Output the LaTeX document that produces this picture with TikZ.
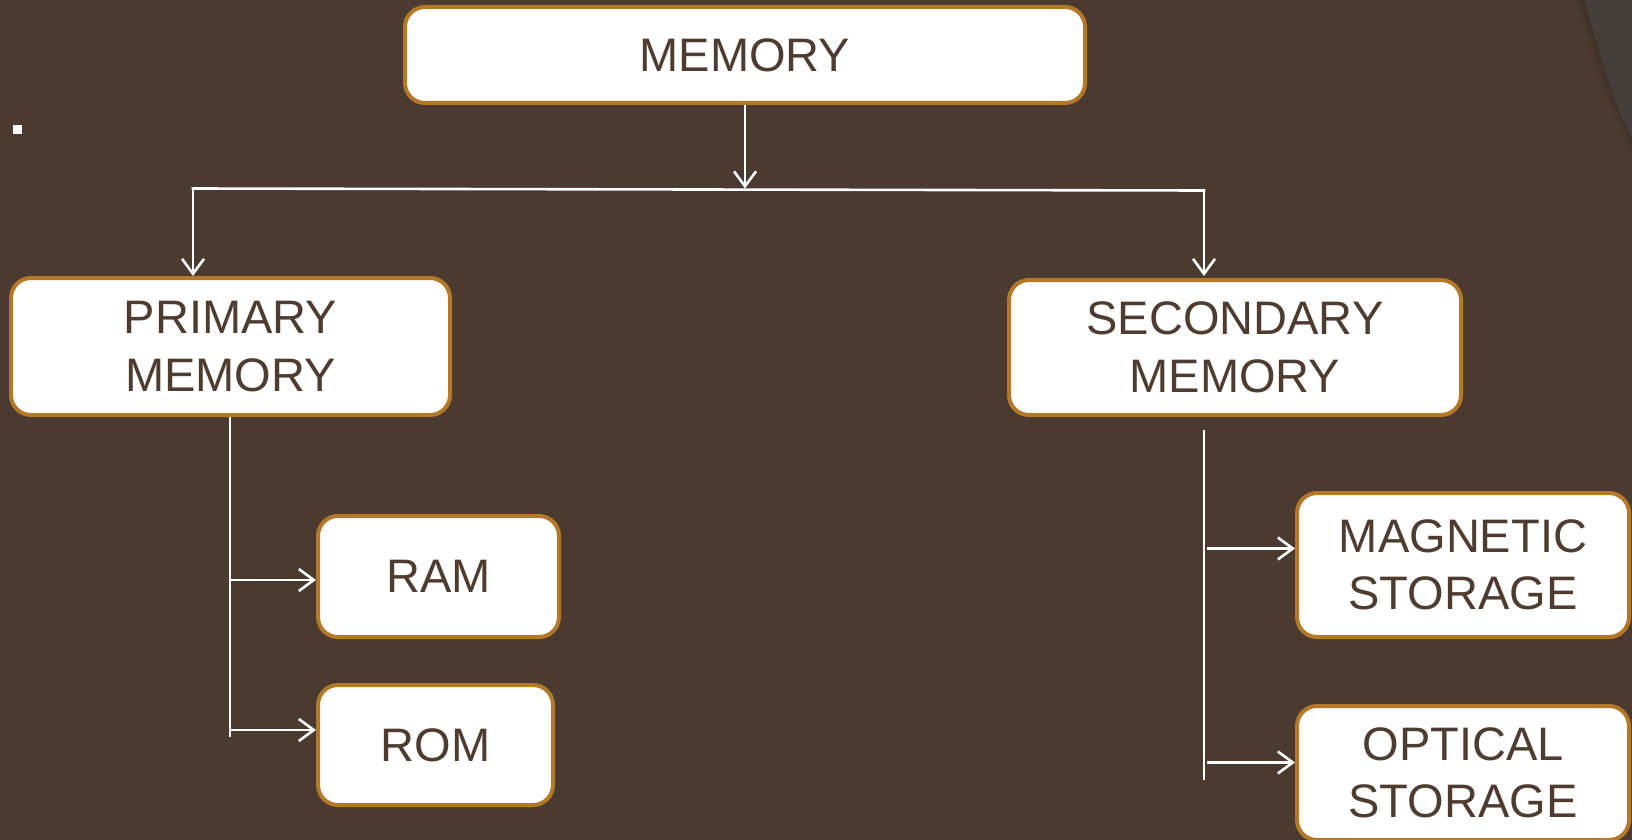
\documentclass[tikz,border=0pt]{standalone}
\usepackage{fontspec}
\setmainfont{Liberation Sans}
\usetikzlibrary{arrows.meta}

\definecolor{bgbrown}{RGB}{75,58,47}
\definecolor{textbrown}{RGB}{78,60,48}
\definecolor{goldedge}{RGB}{180,121,40}
\definecolor{slategray}{RGB}{70,62,58}
\definecolor{deepshade}{RGB}{58,44,36}

\tikzset{
  box/.style={draw=goldedge, line width=4pt, fill=white, rounded corners=20pt,
    inner sep=0pt, text=textbrown, align=center,
    font=\fontsize{47}{57.5}\selectfont},
  wire/.style={draw=white, line width=2.6pt, line cap=rect},
  arr/.style={wire, line cap=butt, -{Straight Barb[length=15pt,width=22pt,line width=2.6pt]}},
}

\begin{document}
\begin{tikzpicture}[x=1pt,y=-1pt]
  \useasboundingbox (0,0) rectangle (1632,840);
  \clip (0,0) rectangle (1632,840);
  % slide background
  \fill[bgbrown] (0,0) rectangle (1632,840);
  % shaded corner band at the top right
  \foreach \w/\o in {14/0.10,9/0.15,5/0.25}
    \draw[deepshade, line width=\w pt, opacity=\o]
      (1580,-5) .. controls (1598,50) and (1612,110) .. (1650,170);
  \fill[slategray] (1584,0) .. controls (1600,50) and (1612,110) .. (1640,150)
    -- (1640,0) -- cycle;
  % bullet mark
  \fill[white] (13,125) rectangle (22,134);

  % boxes
  \node[box, minimum width=680pt, minimum height=96pt]  (mem)  at (745,55)    {MEMORY};
  \node[box, minimum width=439pt, minimum height=137pt] (prim) at (230.5,346.5) {PRIMARY\\MEMORY};
  \node[box, minimum width=452pt, minimum height=135pt] (sec)  at (1235,347.5) {SECONDARY\\MEMORY};
  \node[box, minimum width=241pt, minimum height=121pt] (ram)  at (438.5,576.5) {RAM};
  \node[box, minimum width=235pt, minimum height=120pt] (rom)  at (435.5,745)   {ROM};
  \node[box, minimum width=332pt, minimum height=144pt] (mag)  at (1463,565)   {MAGNETIC\\STORAGE};
  \node[box, minimum width=332pt, minimum height=134pt] (opt)  at (1463,773)   {OPTICAL\\STORAGE};

  % top level split
  \coordinate (hl) at (193,188.5);
  \coordinate (hr) at (1204,190.5);
  \draw[wire] (hl) -- (hr);
  \draw[arr] (mem.south) -- (mem.south |- hl);
  \draw[arr] (hl) -- (hl |- prim.north);
  \draw[arr] (hr) -- ([yshift=2pt]hr |- sec.north);

  % primary memory branch
  \coordinate (pb) at (230,737);
  \path (ram.west) ++(0,3.5) coordinate (ramIn);
  \path (rom.west) ++(0,-15) coordinate (romIn);
  \draw[wire, line cap=butt] (prim.south -| pb) -- (pb);
  \draw[arr] (pb |- ramIn) -- (ramIn);
  \draw[arr] (pb |- romIn) -- (romIn);

  % secondary memory branch
  \coordinate (st) at (1204,430);
  \coordinate (sb) at (1204,780);
  \path (mag.west) ++(0,-16.5) coordinate (magIn);
  \path (opt.west) ++(0,-10.5) coordinate (optIn);
  \draw[wire, line cap=butt] (st) -- (sb);
  \draw[arr] ([xshift=3pt]st |- magIn) -- (magIn);
  \draw[arr] ([xshift=3pt]st |- optIn) -- (optIn);
\end{tikzpicture}
\end{document}
